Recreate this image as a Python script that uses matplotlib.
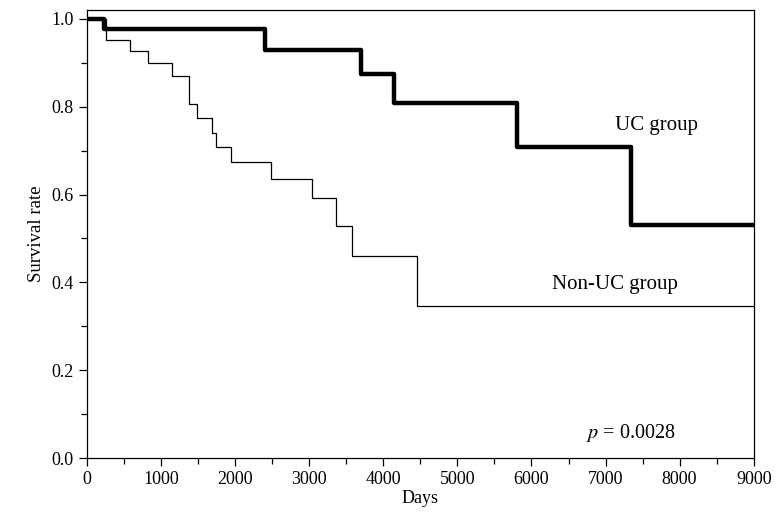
import matplotlib.pyplot as plt

plt.rcParams['font.family'] = ['Liberation Serif', 'DejaVu Serif']
plt.rcParams['mathtext.fontset'] = 'stix'

# Kaplan-Meier steps (days, survival after the step)
uc_days = [0, 230, 2400, 3700, 4150, 5800, 7350, 9000]
uc_surv = [1.0, 0.977, 0.929, 0.874, 0.809, 0.709, 0.531, 0.531]

non_uc_days = [0, 250, 580, 820, 1150, 1375, 1490, 1690, 1735, 1940,
               2490, 3035, 3360, 3580, 4450, 9000]
non_uc_surv = [1.0, 0.951, 0.926, 0.899, 0.869, 0.807, 0.775, 0.740, 0.709, 0.674,
               0.636, 0.593, 0.529, 0.461, 0.346, 0.346]

p_value = 0.0028

fig = plt.figure(figsize=(7.77, 5.26), dpi=100)
ax = fig.add_axes([0.112, 0.129, 0.858, 0.852])

ax.step(non_uc_days, non_uc_surv, where='post', color='black', lw=0.9)
ax.step(uc_days, uc_surv, where='post', color='black', lw=3.2)

ax.set_xlim(0, 9000)
ax.set_ylim(0, 1.02)
ax.set_xticks(range(0, 9001, 1000))
ax.set_xticks(range(500, 9000, 1000), minor=True)
ax.set_yticks([0.0, 0.2, 0.4, 0.6, 0.8, 1.0])
ax.set_yticklabels(['0.0', '0.2', '0.4', '0.6', '0.8', '1.0'])
ax.set_yticks([0.1, 0.3, 0.5, 0.7, 0.9], minor=True)
ax.tick_params(which='both', direction='out', labelsize=13, width=0.9)
ax.tick_params(which='major', length=6)
ax.tick_params(which='minor', length=4)
for s in ax.spines.values():
    s.set_linewidth(0.9)

ax.set_xlabel('Days', fontsize=13, labelpad=1)
ax.set_ylabel('Survival rate', fontsize=13.5, labelpad=5)

ax.text(7130, 0.757, 'UC group', fontsize=15, va='center')
ax.text(6280, 0.395, 'Non-UC group', fontsize=15, va='center')
ax.text(6740, 0.057, '$p$ = ' + f'{p_value:.4f}', fontsize=14.5, va='center')

fig.savefig('out.png', dpi=100)
